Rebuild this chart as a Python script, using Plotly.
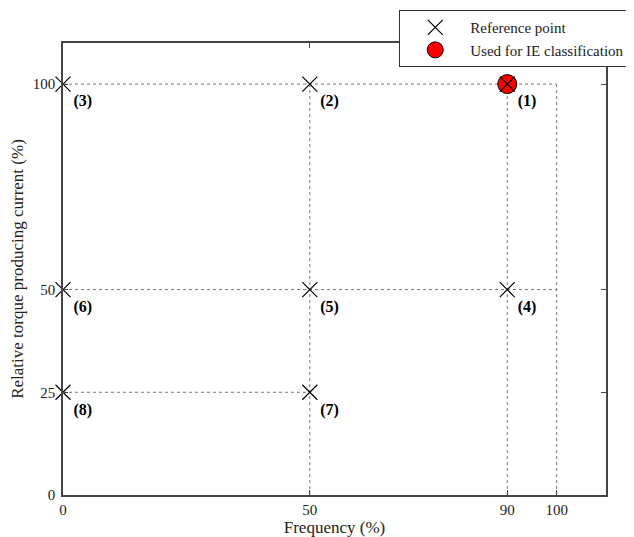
import plotly.graph_objects as go

# Reference points (frequency %, torque-current %)
freq = [90, 50, 0, 90, 50, 0, 50, 0]
torque = [100, 100, 100, 50, 50, 50, 25, 25]
labels = ["(1)", "(2)", "(3)", "(4)", "(5)", "(6)", "(7)", "(8)"]

# Point used for IE classification
ie_freq = [90]
ie_torque = [100]

# Dotted guide lines (x0, y0, x1, y1)
guides = [
    (0, 100, 100, 100),
    (0, 50, 100, 50),
    (0, 25, 50, 25),
    (50, 0, 50, 100),
    (90, 0, 90, 100),
    (100, 0, 100, 100),
]

x_ticks = [0, 50, 90, 100]
y_ticks = [0, 25, 50, 100]

FONT = "Liberation Serif, Times New Roman, serif"

fig = go.Figure()

for x0, y0, x1, y1 in guides:
    fig.add_trace(go.Scatter(x=[x0, x1], y=[y0, y1], mode="lines",
                             line=dict(color="#777", width=1, dash="dot"),
                             showlegend=False, hoverinfo="skip"))

fig.add_trace(go.Scatter(x=ie_freq, y=ie_torque, mode="markers",
                         name="Used for IE classification", cliponaxis=False,
                         marker=dict(symbol="circle", size=19, color="#ff0000",
                                     line=dict(color="black", width=1))))

fig.add_trace(go.Scatter(x=freq, y=torque, mode="markers+text",
                         name="Reference point", cliponaxis=False,
                         text=labels, textposition="bottom right",
                         textfont=dict(family=FONT, size=16, color="black", weight="bold"),
                         marker=dict(symbol="x-thin", size=15, color="black",
                                     line=dict(color="black", width=1.2))))

axis_common = dict(range=[0, 110], showgrid=False, zeroline=False, showline=True,
                   linecolor="#444", linewidth=1.5, mirror="ticks", ticks="inside",
                   ticklen=5, tickcolor="#444", automargin=False,
                   tickfont=dict(family=FONT, size=15, color="#222"))

fig.update_xaxes(tickvals=x_ticks, ticklabelstandoff=0,
                 title=dict(text="Frequency (%)", standoff=3,
                            font=dict(family=FONT, size=17, color="#222")), **axis_common)
fig.update_yaxes(tickvals=y_ticks, ticklabelstandoff=3,
                 title=dict(text="Relative torque producing current (%)", standoff=6,
                            font=dict(family=FONT, size=17, color="#222")), **axis_common)

fig.update_layout(
    width=626, height=529,
    margin=dict(l=55, r=28, t=35, b=42, autoexpand=False),
    plot_bgcolor="white", paper_bgcolor="white",
    font=dict(family=FONT, color="#222"),
    legend=dict(xref="container", yref="container", x=0.625, y=0.996,
                xanchor="left", yanchor="top",
                bordercolor="#333", borderwidth=1, bgcolor="white",
                font=dict(family=FONT, size=15, color="#222"),
                traceorder="reversed", itemwidth=60),
)

fig.write_html("out.html")
